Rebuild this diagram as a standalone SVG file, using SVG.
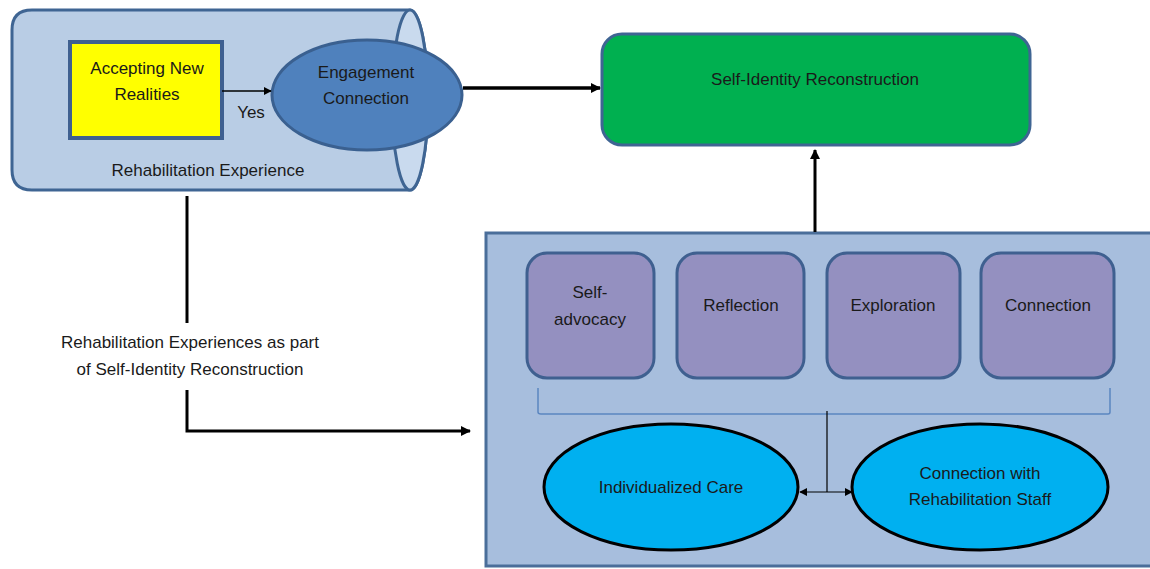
<svg xmlns="http://www.w3.org/2000/svg" width="1150" height="569" viewBox="0 0 1150 569">
<style>
text{font-family:"Liberation Sans",Arial,sans-serif;font-size:17px;fill:#1a1a1a;text-anchor:middle}
.conn{stroke:#000;fill:none}
.purple{fill:#9490C0;stroke:#3F6090;stroke-width:3}
.cyan{fill:#00B0F0;stroke:#000;stroke-width:3}
</style>
<defs>
<marker id="ah" viewBox="0 0 10 10" refX="9" refY="5" markerWidth="10" markerHeight="10" markerUnits="userSpaceOnUse" orient="auto-start-reverse"><path d="M0,0 L10,5 L0,10 Z" fill="#000"/></marker>
<marker id="ahs" viewBox="0 0 10 10" refX="9" refY="5" markerWidth="8" markerHeight="8" markerUnits="userSpaceOnUse" orient="auto-start-reverse"><path d="M0,0 L10,5 L0,10 Z" fill="#000"/></marker>
</defs>
<rect width="1150" height="569" fill="#fff"/>
<g id="rehab-experience">
<path d="M32,10 L410,10 A18,90 0 0 1 410,190 L32,190 Q12,190 12,170 L12,30 Q12,10 32,10 Z" fill="#B9CDE5" stroke="#3F6593" stroke-width="3"/>
<ellipse cx="410" cy="100" rx="18" ry="90" fill="#C9DAEE" stroke="#3F6593" stroke-width="3"/>
<text x="208" y="176">Rehabilitation Experience</text>
</g>
<g id="accepting">
<rect x="70" y="42" width="152" height="96" fill="#FFFF00" stroke="#3F6090" stroke-width="4"/>
<text x="147" y="74">Accepting New</text>
<text x="147" y="100">Realities</text>
</g>
<g id="engagement">
<ellipse cx="367" cy="95" rx="95" ry="55" fill="#4F81BD" stroke="#3A6090" stroke-width="3"/>
<text x="366" y="78">Engagement</text>
<text x="366" y="104">Connection</text>
</g>
<g id="self-identity">
<rect x="602" y="34" width="428" height="111" rx="20" fill="#00B050" stroke="#3F6593" stroke-width="3"/>
<text x="815" y="85">Self-Identity Reconstruction</text>
</g>
<g id="container">
<rect x="486" y="233" width="670" height="333" fill="#A7BEDD" stroke="#4A6E9A" stroke-width="3"/>
</g>
<g id="self-advocacy">
<rect x="527" y="253" width="127" height="125" rx="20" class="purple"/>
<text x="590" y="298">Self-</text>
<text x="590" y="325">advocacy</text>
</g>
<g id="reflection">
<rect x="677" y="253" width="127" height="125" rx="20" class="purple"/>
<text x="741" y="311">Reflection</text>
</g>
<g id="exploration">
<rect x="827" y="253" width="133" height="125" rx="20" class="purple"/>
<text x="893" y="311">Exploration</text>
</g>
<g id="connection">
<rect x="981" y="253" width="133" height="125" rx="20" class="purple"/>
<text x="1048" y="311">Connection</text>
</g>
<g id="individualized-care">
<ellipse cx="671" cy="487" rx="127" ry="63" class="cyan"/>
<text x="671" y="493">Individualized Care</text>
</g>
<g id="connection-staff">
<ellipse cx="980" cy="487" rx="128" ry="63" class="cyan"/>
<text x="980" y="479">Connection with</text>
<text x="980" y="505">Rehabilitation Staff</text>
</g>
<g id="connectors">
<line x1="222" y1="91" x2="271" y2="91" class="conn" stroke-width="1.5" marker-end="url(#ahs)"/>
<text x="251" y="118">Yes</text>
<line x1="463" y1="88" x2="600" y2="88" class="conn" stroke-width="3.5" marker-end="url(#ah)"/>
<line x1="815" y1="232" x2="815" y2="150" class="conn" stroke-width="3" marker-end="url(#ah)"/>
<path d="M187,196 L187,323" class="conn" stroke-width="3"/>
<text x="190" y="348">Rehabilitation Experiences as part</text>
<text x="190" y="375">of Self-Identity Reconstruction</text>
<path d="M187,390 L187,431 L470,431" class="conn" stroke-width="3" marker-end="url(#ah)"/>
<path d="M538,388 L538,412 Q538,414 541,414 L1108,414 Q1110,414 1110,412 L1110,388" fill="none" stroke="#5B86C0" stroke-width="1.5"/>
<line x1="827" y1="411" x2="827" y2="492" class="conn" stroke-width="1.2"/>
<line x1="800" y1="492" x2="852" y2="492" class="conn" stroke-width="1.2" marker-start="url(#ahs)" marker-end="url(#ahs)"/>
</g>
</svg>
